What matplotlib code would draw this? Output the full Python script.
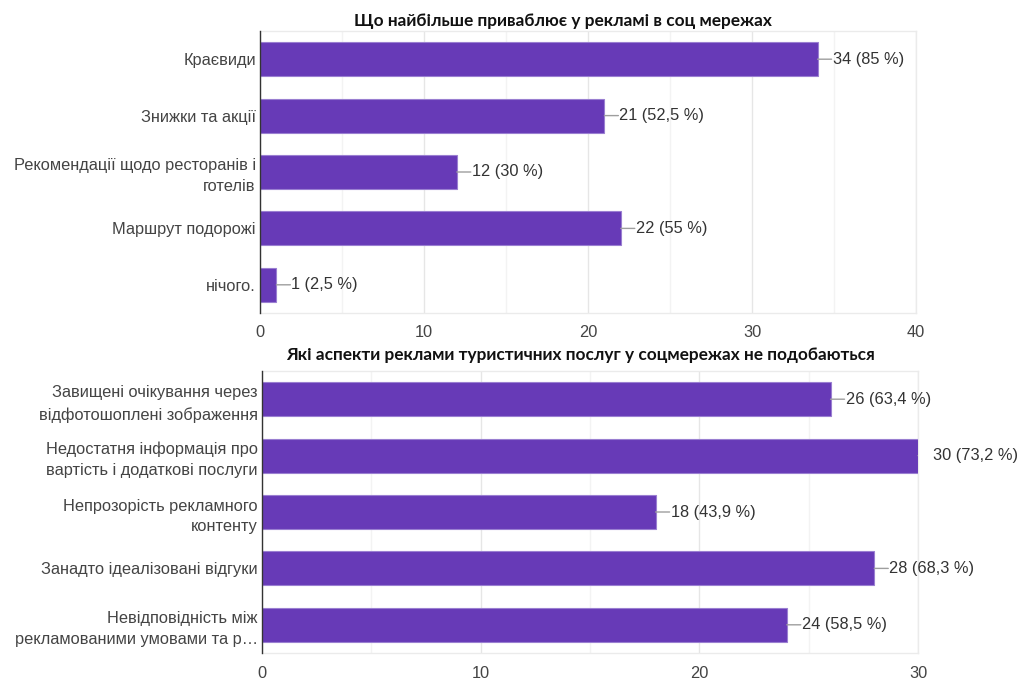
import matplotlib
matplotlib.use("Agg")
import matplotlib.pyplot as plt
from matplotlib.ticker import MultipleLocator
from matplotlib.transforms import offset_copy

plt.rcParams['font.family'] = ['Liberation Sans', 'DejaVu Sans']

title1 = "Що найбільше приваблює у рекламі в соц мережах"
cats1 = ["Краєвиди", "Знижки та акції", "Рекомендації щодо ресторанів і\nготелів",
         "Маршрут подорожі", "нічого."]
vals1 = [34, 21, 12, 22, 1]
pcts1 = [85, 52.5, 30, 55, 2.5]
xmax1 = 40

title2 = "Які аспекти реклами туристичних послуг у соцмережах не подобаються"
cats2 = ["Завищені очікування через\nвідфотошоплені зображення",
         "Недостатня інформація про\nвартість і додаткові послуги",
         "Непрозорість рекламного\nконтенту",
         "Занадто ідеалізовані відгуки",
         "Невідповідність між\nрекламованими умовами та р…"]
vals2 = [26, 30, 18, 28, 24]
pcts2 = [63.4, 73.2, 43.9, 68.3, 58.5]
xmax2 = 30

BAR = '#673AB7'
EDGE = '#9a7fd1'
TXT = '#333333'
FS = 11.8

fig = plt.figure(figsize=(10.26, 6.8), dpi=100)


def fmt_pct(p):
    return f"{p:g}".replace('.', ',') + " %"


def draw(rect, cats, vals, pcts, xmax, title, title_x, title_y):
    ax = fig.add_axes(rect)
    y = list(range(len(cats)))
    ax.barh(y, vals, height=0.6, color=BAR, edgecolor=EDGE, linewidth=0.8, zorder=3)
    ax.set_ylim(len(cats) - 0.5, -0.5)
    ax.set_xlim(0, xmax)
    ax.set_yticks(y)
    ax.set_yticklabels(cats, fontsize=FS, color=TXT, linespacing=1.5)
    ax.xaxis.set_major_locator(MultipleLocator(10))
    ax.xaxis.set_minor_locator(MultipleLocator(5))
    ax.tick_params(axis='both', which='both', length=0)
    ax.tick_params(axis='both', labelsize=FS, labelcolor='#444444')
    ax.tick_params(axis='x', pad=9)
    ax.tick_params(axis='y', pad=3)
    ax.grid(axis='x', which='major', color='#e6e6e6', linewidth=1.0, zorder=0)
    ax.grid(axis='x', which='minor', color='#f3f3f3', linewidth=1.0, zorder=0)
    for s in ['top', 'right', 'bottom']:
        ax.spines[s].set_color('#ebebeb')
        ax.spines[s].set_linewidth(1.0)
    ax.spines['left'].set_color('#333333')
    ax.spines['left'].set_linewidth(1.0)
    ax.spines['left'].set_zorder(4)
    end_tr = offset_copy(ax.transData, fig=fig, x=15, y=0, units='dots')
    for yi, v, p in zip(y, vals, pcts):
        ann = ax.annotate("", xy=(v, yi), xycoords='data',
                          xytext=(14, 0), textcoords='offset pixels',
                          arrowprops=dict(arrowstyle='-', color='#9e9e9e', lw=1.0,
                                          shrinkA=0, shrinkB=0),
                          annotation_clip=False)
        ann.arrow_patch.set_clip_box(ax.bbox)
        ann.arrow_patch.set_clip_on(True)
        ax.text(v, yi, f"{v} ({fmt_pct(p)})", transform=end_tr, fontsize=FS,
                color=TXT, va='center', ha='left', clip_on=False)
    fig.text(title_x, title_y, title, fontsize=12.4, fontweight='bold',
             family=['Lato', 'DejaVu Sans'], color='#111111', ha='center', va='center')
    return ax


W, H = 1026, 680
draw([260 / W, 1 - 313 / H, 656 / W, 282 / H], cats1, vals1, pcts1, xmax1, title1,
     563 / W, 1 - 21 / H)
draw([262 / W, 1 - 653 / H, 656 / W, 282 / H], cats2, vals2, pcts2, xmax2, title2,
     580 / W, 1 - 355 / H)

fig.savefig("out.png", dpi=100)
